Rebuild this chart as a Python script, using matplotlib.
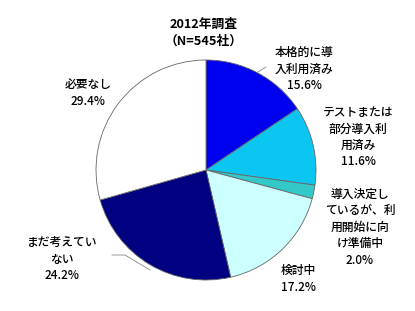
import matplotlib
matplotlib.use("Agg")
import matplotlib.pyplot as plt

plt.rcParams['font.family'] = ['Noto Sans CJK JP', 'DejaVu Sans']

# Data
categories = ["本格的に導\n入利用済み", "テストまたは\n部分導入利\n用済み",
              "導入決定し\nているが、利\n用開始に向\nけ準備中", "検討中",
              "まだ考えてい\nない", "必要なし"]
values = [15.6, 11.6, 2.0, 17.2, 24.2, 29.4]
colors = ["#0000F0", "#0CC6F2", "#33C9C9", "#CCFFFF", "#000080", "#FFFFFF"]
title_lines = ["2012年調査", "（N=545社）"]

W, H = 415, 311
fig = plt.figure(figsize=(W / 100, H / 100), dpi=100)
ax = fig.add_axes([0, 0, 1, 1])
ax.set_xlim(0, W)
ax.set_ylim(0, H)
ax.set_aspect('equal')
ax.axis('off')

def Y(y):
    return H - y

cx, cy, r = 206, 170, 110
ax.pie(values, colors=colors, startangle=90, counterclock=False,
       center=(cx, Y(cy)), radius=r,
       wedgeprops=dict(edgecolor="#666666", linewidth=0.6))
ax.set_xlim(0, W)
ax.set_ylim(0, H)

ax.text(204, Y(24), title_lines[0], ha='center', va='center', fontsize=9.2, fontweight='bold')
ax.text(204, Y(41), title_lines[1], ha='center', va='center', fontsize=9.2, fontweight='bold')

label_pos = [(304, 69), (358, 137), (360, 227), (298, 279), (62, 259), (88, 93)]
for lab, v, (x, y) in zip(categories, values, label_pos):
    ax.text(x, Y(y), f"{lab}\n{v:.1f}%", ha='center', va='center',
            fontsize=8.5, linespacing=1.35, fontweight='medium')

# leader lines
ax.plot([258, 266], [Y(72), Y(67)], color='#888888', lw=0.6)
ax.plot([112, 125, 150], [Y(255), Y(255), Y(270)], color='#888888', lw=0.6)

fig.savefig("out.png", dpi=100)
